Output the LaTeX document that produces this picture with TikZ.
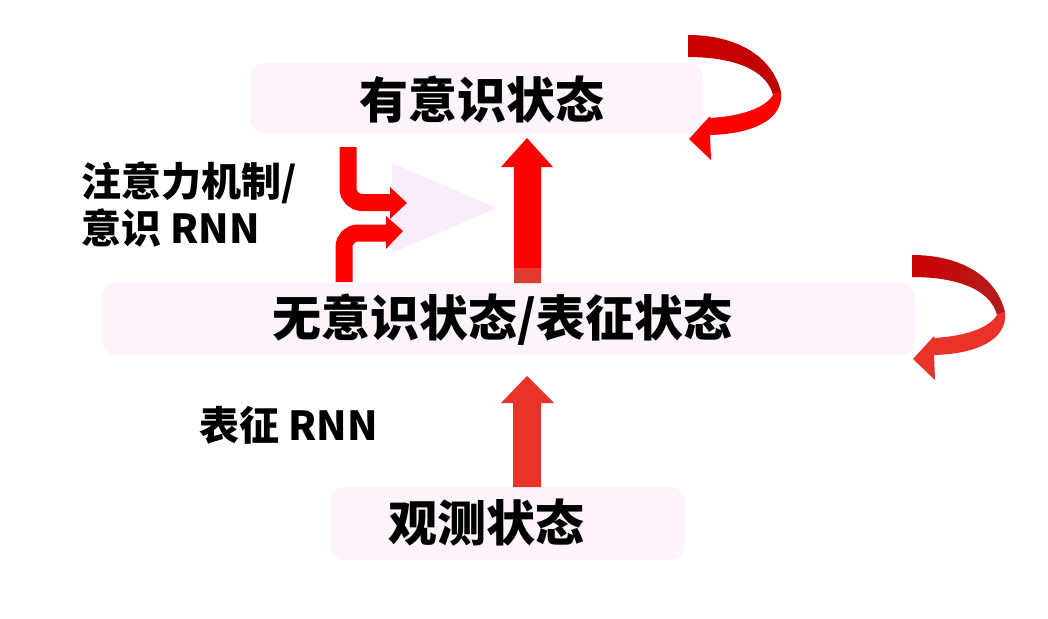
\documentclass[tikz,border=0pt]{standalone}
\usepackage{fontspec}
\newfontfamily\cjk{Noto Sans CJK SC}
\definecolor{boxfill}{RGB}{252,243,252}
\definecolor{trifill}{RGB}{250,237,250}
\definecolor{arrowred}{RGB}{255,0,0}
\definecolor{darkred}{RGB}{204,0,0}
\definecolor{deepred}{RGB}{178,30,30}
\definecolor{softred}{RGB}{232,50,42}
\definecolor{stubred}{RGB}{224,58,48}
\tikzset{
  statebox/.style={fill=boxfill, draw=none, rounded corners=14pt, inner sep=0pt},
  bigtext/.style={font=\cjk\bfseries\fontsize{49}{52}\selectfont, inner sep=0pt, text=black},
  sidetext/.style={font=\cjk\bfseries\fontsize{40}{46}\selectfont, inner sep=0pt, anchor=west, text=black, align=left},
  mergearrow/.style={draw=arrowred, line width=17pt, rounded corners=14pt, line cap=butt},
}
\begin{document}
\begin{tikzpicture}[x=1pt, y=-1pt]
\useasboundingbox (0,0) rectangle (1048,618);
% boxes
\node[statebox, minimum width=453pt, minimum height=70pt] (topbox) at (476.5,98) {};
\node[statebox, minimum width=813pt, minimum height=72pt] (midbox) at (508.5,319) {};
\node[statebox, minimum width=355pt, minimum height=73pt] (botbox) at (507.5,523.5) {};
% light triangle
\fill[trifill] (392,163) -- (497,208) -- (392,253) -- cycle;
% merge arrows
\coordinate (m1s) at (348,147);
\coordinate (m1e) at (391,202.5);
\draw[mergearrow] (m1s) |- (m1e);
\fill[arrowred] (390,187) -- (407,203) -- (390,219) -- cycle;
\coordinate (m2s) at (344,282);
\coordinate (m2e) at (388,233);
\draw[mergearrow] (m2s) |- (m2e);
\fill[arrowred] (386,216) -- (403,231) -- (386,249) -- cycle;
% up arrow middle -> top
\fill[arrowred] (514,283) -- (514,167) -- (501,167) -- (527,138) -- (553,167) -- (541,167) -- (541,283) -- cycle;
\fill[stubred] (514,268) rectangle (541,283);
% up arrow bottom -> middle
\fill[softred] (513,487) -- (513,403) -- (501,403) -- (527,376) -- (554,403) -- (541,403) -- (541,487) -- cycle;
% curved self arrow, top
\shade[left color=darkred, right color={rgb,255:red,190;green,0;blue,0}]
  (688,35) .. controls (735,35) and (772,55) .. (781,92) -- (773,95)
  .. controls (766,68) and (730,57) .. (688,57) -- cycle;
\fill[arrowred] (781,92) .. controls (784,120) and (752,134) .. (710,135)
  -- (711,160) -- (689,139) -- (710,116) -- (710,118)
  .. controls (742,116) and (765,108) .. (773,95) -- cycle;
% curved self arrow, middle
\begin{scope}[shift={(224,220)}]
\shade[left color=darkred, right color=deepred]
  (688,35) .. controls (735,35) and (772,55) .. (781,92) -- (773,95)
  .. controls (766,68) and (730,57) .. (688,57) -- cycle;
\fill[softred] (781,92) .. controls (784,120) and (752,134) .. (710,135)
  -- (711,160) -- (689,139) -- (710,116) -- (710,118)
  .. controls (742,116) and (765,108) .. (773,95) -- cycle;
\end{scope}
% texts
\node[bigtext] (ttop) at (481.5,100) {有意识状态};
\node[bigtext] (tmid) at (502.5,320) {无意识状态/表征状态};
\node[bigtext] (tbot) at (486.5,523) {观测状态};
\node[sidetext] (lab1) at (81,183) {注意力机制/};
\node[sidetext] (lab2) at (81,228) {意识 RNN};
\node[sidetext] (lab3) at (199,425) {表征 RNN};
\end{tikzpicture}
\end{document}
